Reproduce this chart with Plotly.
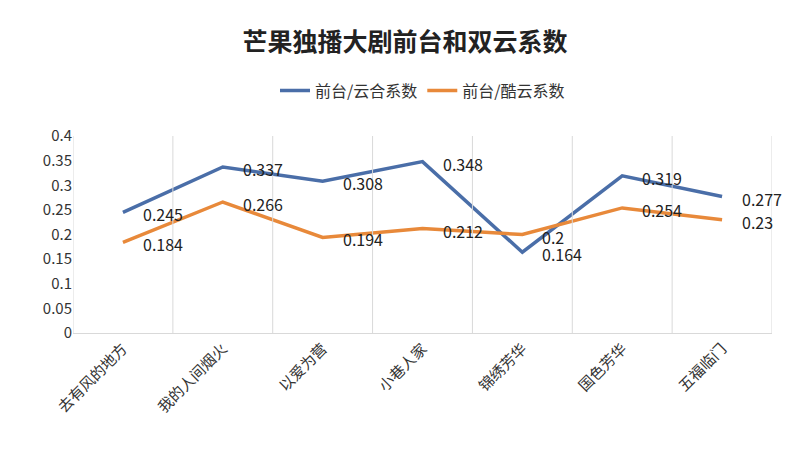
import plotly.graph_objects as go

shows = ["去有风的地方", "我的人间烟火", "以爱为营", "小巷人家", "锦绣芳华", "国色芳华", "五福临门"]
yun_he = [0.245, 0.337, 0.308, 0.348, 0.164, 0.319, 0.277]
ku_yun = [0.184, 0.266, 0.194, 0.212, 0.2, 0.254, 0.23]

font = "Noto Sans CJK SC"
fig = go.Figure()
fig.add_trace(go.Scatter(x=shows, y=yun_he, mode="lines", name="前台/云合系数",
                         line=dict(color="#4a6ea8", width=3.5)))
fig.add_trace(go.Scatter(x=shows, y=ku_yun, mode="lines", name="前台/酷云系数",
                         line=dict(color="#e8893a", width=3.5)))

# data labels to the right of each point
for series in (yun_he, ku_yun):
    for name, v in zip(shows, series):
        fig.add_annotation(x=name, y=v, text=str(v), showarrow=False, xanchor="left",
                           xshift=18, yshift=-2, font=dict(size=16, color="#222"))

for i in range(len(shows) + 1):
    fig.add_shape(type="line", xref="x", yref="y", x0=i - 0.5, x1=i - 0.5, y0=0, y1=0.4,
                  line=dict(color="#d9d9d9", width=1))

fig.update_layout(
    width=794, height=452, plot_bgcolor="white", paper_bgcolor="white",
    font=dict(family=font, color="#333"),
    title=dict(text="<b>芒果独播大剧前台和双云系数</b>", x=0.5, y=0.925, xanchor="center",
               yanchor="middle", font=dict(size=25, color="#222")),
    legend=dict(orientation="h", x=0.5, xanchor="center", y=1.23, yanchor="middle",
                font=dict(size=16)),
    margin=dict(l=65, r=30, t=128, b=127),
    showlegend=True,
)
fig.update_xaxes(tickangle=-45, tickfont=dict(size=15), showgrid=False,
                 showline=True, linecolor="#d9d9d9", range=[-0.5, 6.5])
fig.update_yaxes(range=[0, 0.4], dtick=0.05, showgrid=False, zeroline=False,
                 tickfont=dict(size=15), tickformat="~g")
fig.write_html("out.html")
